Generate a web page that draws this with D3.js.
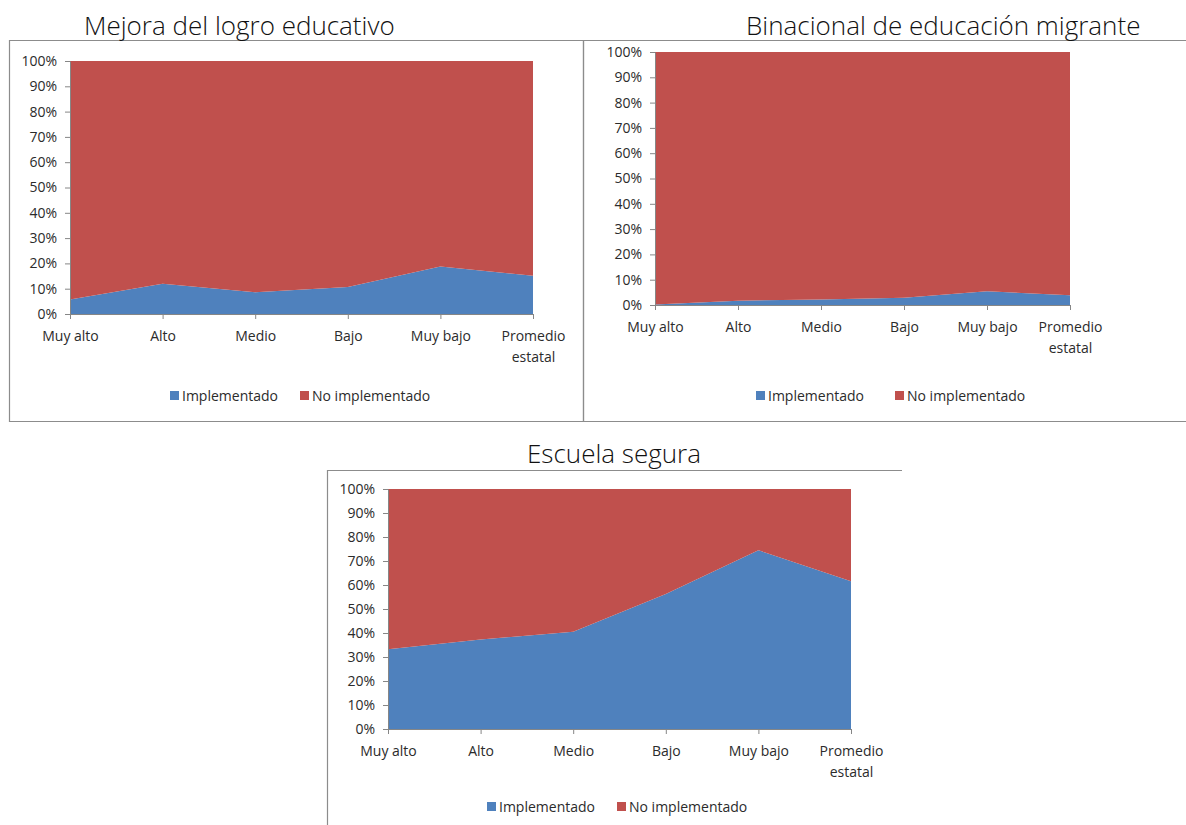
<!DOCTYPE html>
<html lang="es">
<head>
<meta charset="utf-8">
<title>Implementación de programas por grado de marginación</title>
<script src="https://cdn.jsdelivr.net/npm/d3@7"></script>
<style>
  html, body { margin: 0; padding: 0; background: #ffffff; }
  svg { display: block; }
  .tick text, .legend text { font-family: "Open Sans", "Noto Sans", sans-serif; font-size: 14px; fill: #2b2b2b; }
  .title { font-family: "Open Sans", "Noto Sans", sans-serif; font-weight: 300; font-size: 26px; fill: #111111; }
</style>
</head>
<body>
<svg id="chart" width="1186" height="825"></svg>
<script>
// Grado de marginación (eje horizontal)
const categories = ["Muy alto", "Alto", "Medio", "Bajo", "Muy bajo", "Promedio estatal"];

// Series y leyenda
const seriesNames = ["Implementado", "No implementado"];
const seriesColors = ["#4f81bd", "#c0504d"];

// Porcentaje de escuelas por programa
const mejoraImplementado     = [5.7, 12.0, 8.6, 10.7, 18.8, 15.1];
const mejoraNoImplementado   = [94.3, 88.0, 91.4, 89.3, 81.2, 84.9];

const binacionalImplementado   = [0.2, 1.7, 2.2, 2.9, 5.4, 3.9];
const binacionalNoImplementado = [99.8, 98.3, 97.8, 97.1, 94.6, 96.1];

const seguraImplementado     = [33.2, 37.3, 40.5, 56.2, 74.5, 61.6];
const seguraNoImplementado   = [66.8, 62.7, 59.5, 43.8, 25.5, 38.4];

// Marcas del eje vertical (0% a 100%)
const yTicks = [0, 0.1, 0.2, 0.3, 0.4, 0.5, 0.6, 0.7, 0.8, 0.9, 1.0];

const svg = d3.select("#chart");

const panels = [
  {
    title: "Mejora del logro educativo",
    implemented: mejoraImplementado, notImplemented: mejoraNoImplementado,
    frame: "M9.5,40.5H583.5V421.5H9.5Z",
    titleX: 84, titleY: 35,
    plot: { x0: 70, x1: 533, top: 61, bottom: 314 },
    legendY: 396, legendX: [170, 300]
  },
  {
    title: "Binacional de educación migrante",
    implemented: binacionalImplementado, notImplemented: binacionalNoImplementado,
    frame: "M1190,40.5H583.5V421.5H1190",
    titleX: 746, titleY: 35,
    plot: { x0: 655, x1: 1070, top: 52, bottom: 305 },
    legendY: 396, legendX: [756, 895]
  },
  {
    title: "Escuela segura",
    implemented: seguraImplementado, notImplemented: seguraNoImplementado,
    frame: "M902,470.5H327.5V830",
    titleX: 527, titleY: 463,
    plot: { x0: 388, x1: 851, top: 489, bottom: 729 },
    legendY: 807, legendX: [487, 617]
  }
];

panels.forEach(drawPanel);

function drawPanel(p) {
  const g = svg.append("g");

  g.append("path")
    .attr("d", p.frame)
    .attr("fill", "none")
    .attr("stroke", "#8c8c8c")
    .attr("stroke-width", 1.2);

  g.append("text")
    .attr("class", "title")
    .attr("x", p.titleX)
    .attr("y", p.titleY)
    .text(p.title);

  const x = d3.scalePoint().domain(categories).range([p.plot.x0, p.plot.x1]).padding(0);
  const y = d3.scaleLinear().domain([0, 1]).range([p.plot.bottom, p.plot.top]);

  const rows = categories.map((c, i) => ({
    cat: c,
    "Implementado": p.implemented[i],
    "No implementado": p.notImplemented[i]
  }));

  const stacked = d3.stack()
    .keys(seriesNames)
    .offset(d3.stackOffsetExpand)(rows);

  const area = d3.area()
    .x(d => x(d.data.cat))
    .y0(d => y(d[0]))
    .y1(d => y(d[1]));

  g.selectAll("path.layer")
    .data(stacked)
    .join("path")
    .attr("class", "layer")
    .attr("fill", (d, i) => seriesColors[i])
    .attr("d", area);

  // Eje vertical
  const yAxis = g.append("g")
    .attr("transform", `translate(${p.plot.x0},0)`)
    .call(d3.axisLeft(y).tickValues(yTicks).tickFormat(d3.format(".0%")).tickSize(5).tickSizeOuter(0).tickPadding(8));
  yAxis.select(".domain").attr("stroke", "#868686");
  yAxis.selectAll(".tick line").attr("stroke", "#868686");

  // Eje horizontal
  const xAxis = g.append("g")
    .attr("transform", `translate(0,${p.plot.bottom})`)
    .call(d3.axisBottom(x).tickSize(5).tickSizeOuter(0).tickPadding(12));
  xAxis.select(".domain").attr("stroke", "#868686");
  xAxis.selectAll(".tick line").attr("stroke", "#868686");
  xAxis.selectAll(".tick text").each(function(d) {
    const words = d.split(" ");
    const t = d3.select(this);
    if (d === "Promedio estatal") {
      t.text(null);
      t.append("tspan").attr("x", 0).attr("dy", "0.71em").text(words[0]);
      t.append("tspan").attr("x", 0).attr("dy", "1.5em").text(words[1]);
    }
  });

  // Leyenda
  const legend = g.append("g").attr("class", "legend");
  seriesNames.forEach((name, i) => {
    const lx = p.legendX[i];
    legend.append("rect")
      .attr("x", lx).attr("y", p.legendY - 5)
      .attr("width", 9).attr("height", 9)
      .attr("fill", seriesColors[i]);
    legend.append("text")
      .attr("x", lx + 12).attr("y", p.legendY)
      .attr("dy", "0.35em")
      .text(name);
  });
}
</script>
</body>
</html>
